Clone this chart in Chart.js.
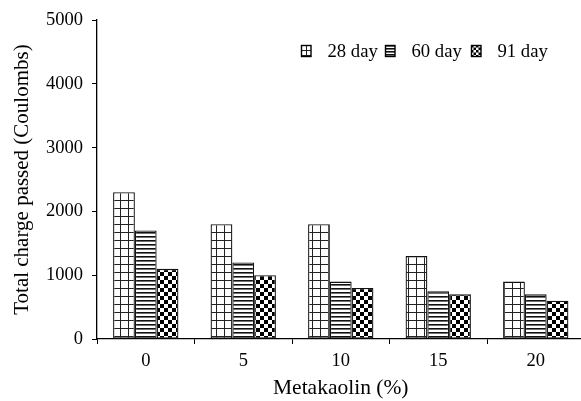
<!DOCTYPE html>
<html>
<head>
<meta charset="utf-8">
<script src="https://cdn.jsdelivr.net/npm/chart.js@4/dist/chart.umd.min.js"></script>
<style>
  html, body { margin: 0; padding: 0; background: #fff; overflow: hidden; }
  #wrap { width: 586px; height: 401px; }
</style>
</head>
<body>
<div id="wrap"><canvas id="c" width="586" height="401"></canvas></div>
<script>
const categories = ['0', '5', '10', '15', '20'];
const seriesNames = ['28 day', '60 day', '91 day'];
const day28 = [2300, 1800, 1800, 1300, 900];
const day60 = [1700, 1200, 900, 750, 700];
const day91 = [1100, 1000, 800, 700, 600];
const yTicks = [0, 1000, 2000, 3000, 4000, 5000];

function makePattern(kind, s) {
  const t = document.createElement('canvas');
  const g = t.getContext('2d');
  if (kind === 'grid') {
    t.width = 2 * s; t.height = 2 * s;
    g.fillStyle = '#fff'; g.fillRect(0, 0, t.width, t.height);
    g.fillStyle = '#222';
    g.fillRect(0, 0, t.width, 1);
    g.fillRect(0, 0, 1, t.height);
  } else if (kind === 'hline') {
    t.width = s; t.height = s;
    g.fillStyle = '#fff'; g.fillRect(0, 0, s, s);
    g.fillStyle = '#111';
    g.fillRect(0, 0, s, 1.6);
  } else {
    t.width = 2 * s; t.height = 2 * s;
    g.fillStyle = '#fff'; g.fillRect(0, 0, t.width, t.height);
    g.fillStyle = '#000';
    g.fillRect(0, 0, s, s);
    g.fillRect(s, s, s, s);
  }
  return g.createPattern(t, 'repeat');
}
const kinds = ['grid', 'hline', 'check'];
const fills = [makePattern('grid', 4), makePattern('hline', 4), makePattern('check', 4)];
const legendFills = [makePattern('grid', 2.5), makePattern('hline', 3), makePattern('check', 2.5)];
const FONT = "'Liberation Serif', 'Times New Roman', serif";

const legendPlugin = {
  id: 'customLegend',
  afterDraw(chart) {
    const ctx = chart.ctx;
    const boxX = [301, 385, 471];
    const textX = [327.5, 411.5, 497.5];
    const baseline = 57;
    ctx.save();
    ctx.font = '18.7px ' + FONT;
    ctx.textBaseline = 'alphabetic';
    ctx.textAlign = 'left';
    chart.data.datasets.forEach((ds, i) => {
      ctx.save();
      ctx.translate(boxX[i], 45);
      ctx.fillStyle = legendFills[i];
      ctx.fillRect(0, 0, 10, 12);
      ctx.restore();
      ctx.strokeStyle = '#000';
      ctx.lineWidth = 1.4;
      ctx.strokeRect(boxX[i] + 0.5, 45.5, 9.5, 11);
      ctx.fillStyle = '#000';
      ctx.fillText(ds.label, textX[i], baseline);
    });
    ctx.restore();
  }
};

new Chart(document.getElementById('c'), {
  type: 'bar',
  data: {
    labels: categories,
    datasets: [
      { label: seriesNames[0], data: day28, backgroundColor: fills[0] },
      { label: seriesNames[1], data: day60, backgroundColor: fills[1] },
      { label: seriesNames[2], data: day91, backgroundColor: fills[2] }
    ].map(d => Object.assign(d, { borderColor: '#111', borderWidth: 1.3, borderSkipped: false, categoryPercentage: 0.67, barPercentage: 1.0 }))
  },
  options: {
    responsive: false,
    animation: false,
    devicePixelRatio: 1,
    layout: { padding: { top: 13, right: 1.5, bottom: 0, left: 0 } },
    plugins: { legend: { display: false }, tooltip: { enabled: false } },
    scales: {
      x: {
        afterFit(s) { s.height = 62; },
        grid: { display: true, drawOnChartArea: false, drawTicks: true, tickLength: 5, color: '#000', offset: true },
        border: { display: true, color: '#000', width: 1.3 },
        ticks: { color: '#000', font: { family: FONT, size: 18.5 }, padding: 6 },
        title: { display: true, text: 'Metakaolin (%)', color: '#000', font: { family: FONT, size: 21.5 }, padding: { top: 0, bottom: 0 } }
      },
      y: {
        min: 0, max: 5000,
        afterFit(s) { s.width = 97; },
        afterBuildTicks(s) { s.ticks = yTicks.map(v => ({ value: v })); },
        grid: { display: true, drawOnChartArea: false, drawTicks: true, tickLength: 5, color: '#000' },
        border: { display: true, color: '#000', width: 1.3 },
        ticks: { color: '#000', font: { family: FONT, size: 18.5 }, padding: 9, callback: v => String(v) },
        title: { display: true, text: 'Total charge passed (Coulombs)', color: '#000', font: { family: FONT, size: 21 }, padding: { top: 10, bottom: 0 } }
      }
    }
  },
  plugins: [legendPlugin]
});
</script>
</body>
</html>
